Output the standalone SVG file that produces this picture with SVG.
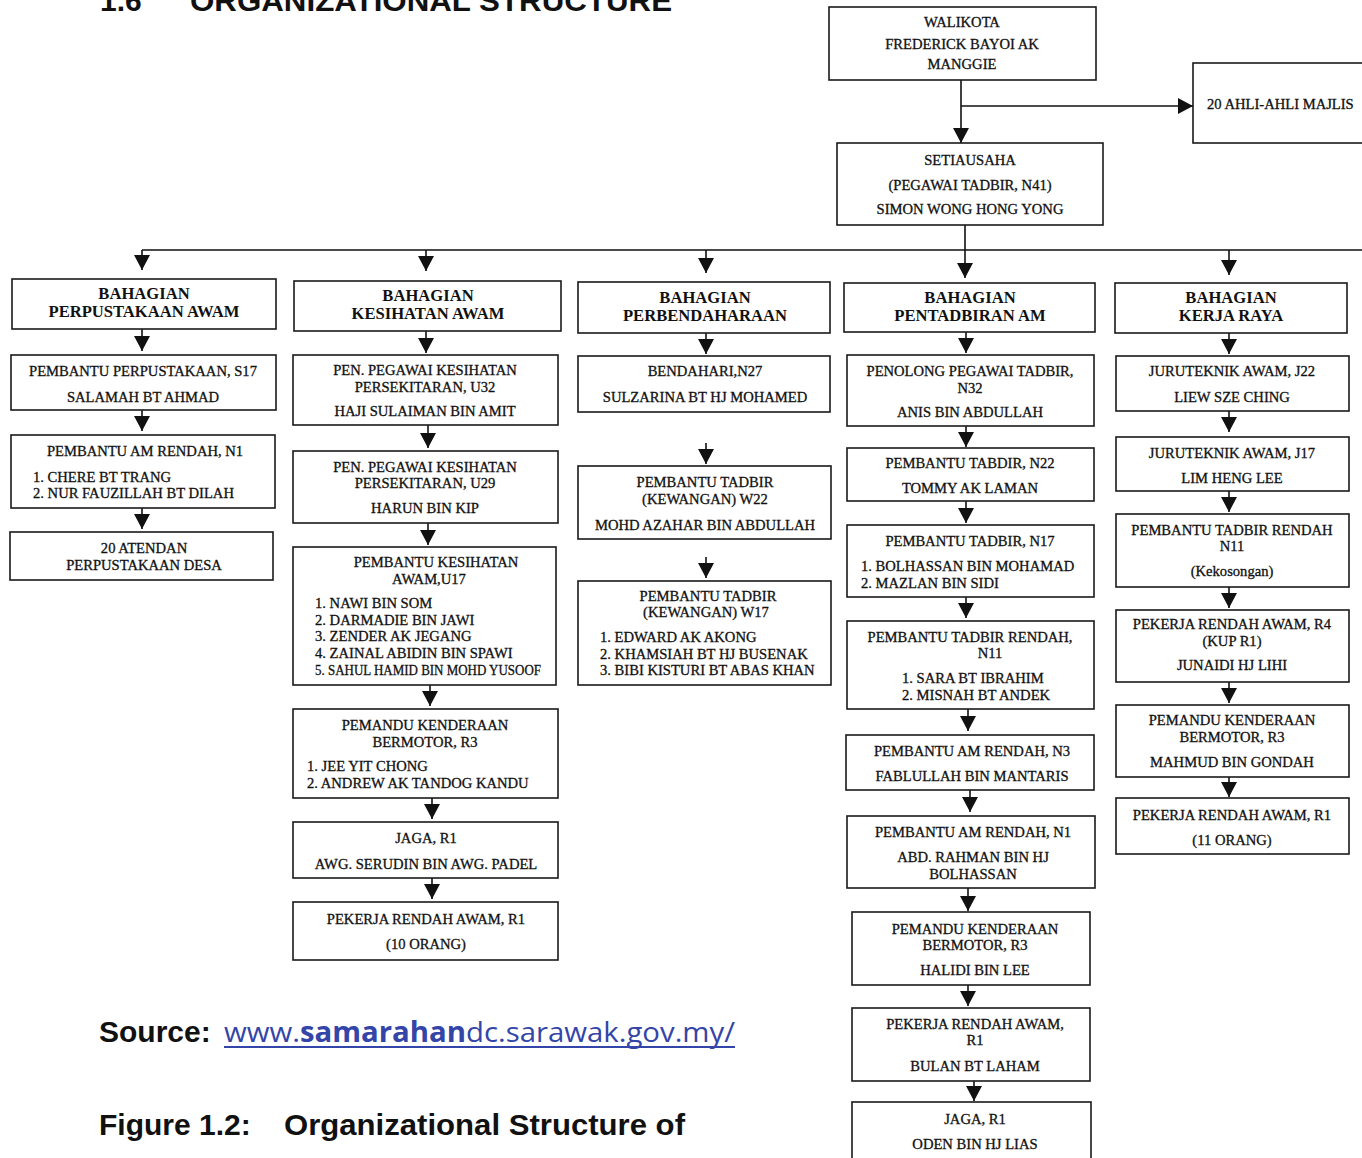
<svg xmlns="http://www.w3.org/2000/svg" width="1362" height="1158" viewBox="0 0 1362 1158">
<style>
.b{fill:#fff;stroke:#1a1a1a;stroke-width:1.6}
.t{font-family:"Liberation Serif",serif;font-size:14.6px;fill:#111;text-anchor:middle;stroke:#111;stroke-width:0.3}
.l{text-anchor:start}
.h{font-family:"Liberation Serif",serif;font-size:16.6px;font-weight:bold;fill:#111;text-anchor:middle}
.c{stroke:#111;stroke-width:1.6;fill:none}
.a{marker-end:url(#ar)}
.cap{font-family:"Liberation Sans",Arial,sans-serif;font-weight:bold;fill:#111}
</style>
<defs>
<marker id="ar" markerUnits="userSpaceOnUse" markerWidth="15" markerHeight="16" viewBox="0 0 15 16" refX="15" refY="8" orient="auto">
<path d="M0,0 L15,8 L0,16 z" fill="#111"/>
</marker>
</defs>
<rect width="1362" height="1158" fill="#fff"/>
<text class="cap" x="100" y="11" font-size="30">1.6</text>
<text class="cap" x="190" y="11" font-size="30" textLength="482" lengthAdjust="spacingAndGlyphs">ORGANIZATIONAL STRUCTURE</text>

<g id="connectors">
<path class="c a" d="M961,80 V143"/>
<path class="c a" d="M961,106 H1193"/>
<path class="c" d="M965,225 V250 M142,250 H1362"/>
<path class="c a" d="M142,250 V270"/>
<path class="c a" d="M426,250 V271"/>
<path class="c a" d="M706,250 V273"/>
<path class="c a" d="M965,250 V278"/>
<path class="c a" d="M1229,250 V275"/>
<path class="c a" d="M142,329 V351"/>
<path class="c a" d="M142,410 V431"/>
<path class="c a" d="M142,508 V529"/>
<path class="c a" d="M426,331 V353"/>
<path class="c a" d="M428,425 V448"/>
<path class="c a" d="M428,523 V545"/>
<path class="c a" d="M430,685 V706"/>
<path class="c a" d="M432,798 V819"/>
<path class="c a" d="M432,878 V899"/>
<path class="c a" d="M706,333 V354"/>
<path class="c a" d="M706,443 V464"/>
<path class="c a" d="M706,557 V578"/>
<path class="c a" d="M966,332 V353"/>
<path class="c a" d="M966,426 V447"/>
<path class="c a" d="M966,501 V523"/>
<path class="c a" d="M966,597 V618"/>
<path class="c a" d="M968,709 V731"/>
<path class="c a" d="M970,790 V812"/>
<path class="c a" d="M968,888 V911"/>
<path class="c a" d="M968,985 V1006"/>
<path class="c a" d="M974,1081 V1101"/>
<path class="c a" d="M1229,333 V354"/>
<path class="c a" d="M1229,411 V432"/>
<path class="c a" d="M1229,491 V512"/>
<path class="c a" d="M1229,587 V608"/>
<path class="c a" d="M1229,682 V703"/>
<path class="c a" d="M1229,777 V797"/>
</g>

<g id="walikota"><rect class="b" x="829" y="7" width="267" height="73"/>
<text class="t" x="962" y="27">WALIKOTA</text><text class="t" x="962" y="49">FREDERICK BAYOI AK</text><text class="t" x="962" y="69">MANGGIE</text></g>
<g id="ahli-majlis"><rect class="b" x="1193" y="63" width="185" height="80"/>
<text class="t l" x="1207" y="109">20 AHLI-AHLI MAJLIS</text></g>
<g id="setiausaha"><rect class="b" x="837" y="143" width="266" height="82"/>
<text class="t" x="970" y="165">SETIAUSAHA</text><text class="t" x="970" y="190">(PEGAWAI TADBIR, N41)</text><text class="t" x="970" y="214">SIMON WONG HONG YONG</text></g>

<g id="perpustakaan"><rect class="b" x="12" y="279" width="264" height="50"/>
<text class="h" x="144" y="299">BAHAGIAN</text><text class="h" x="144" y="317">PERPUSTAKAAN AWAM</text></g>
<g id="c1n1"><rect class="b" x="11" y="355" width="265" height="55"/>
<text class="t" x="143" y="376">PEMBANTU PERPUSTAKAAN, S17</text><text class="t" x="143" y="402">SALAMAH BT AHMAD</text></g>
<g id="c1n2"><rect class="b" x="11" y="435" width="264" height="73"/>
<text class="t" x="145" y="456">PEMBANTU AM RENDAH, N1</text>
<text class="t l" x="33" y="482">1. CHERE BT TRANG</text><text class="t l" x="33" y="498">2. NUR FAUZILLAH BT DILAH</text></g>
<g id="c1n3"><rect class="b" x="10" y="532" width="263" height="48"/>
<text class="t" x="144" y="553">20 ATENDAN</text><text class="t" x="144" y="570">PERPUSTAKAAN DESA</text></g>

<g id="kesihatan"><rect class="b" x="294" y="281" width="267" height="50"/>
<text class="h" x="428" y="301">BAHAGIAN</text><text class="h" x="428" y="319">KESIHATAN AWAM</text></g>
<g id="c2n1"><rect class="b" x="293" y="355" width="265" height="70"/>
<text class="t" x="425" y="375">PEN. PEGAWAI KESIHATAN</text><text class="t" x="425" y="392">PERSEKITARAN, U32</text><text class="t" x="425" y="416">HAJI SULAIMAN BIN AMIT</text></g>
<g id="c2n2"><rect class="b" x="293" y="451" width="265" height="72"/>
<text class="t" x="425" y="472">PEN. PEGAWAI KESIHATAN</text><text class="t" x="425" y="488">PERSEKITARAN, U29</text><text class="t" x="425" y="513">HARUN BIN KIP</text></g>
<g id="c2n3"><rect class="b" x="293" y="547" width="263" height="138"/>
<text class="t" x="436" y="567">PEMBANTU KESIHATAN</text><text class="t" x="429" y="584">AWAM,U17</text>
<text class="t l" x="315" y="608">1. NAWI BIN SOM</text><text class="t l" x="315" y="625">2. DARMADIE BIN JAWI</text><text class="t l" x="315" y="641">3. ZENDER AK JEGANG</text><text class="t l" x="315" y="658">4. ZAINAL ABIDIN BIN SPAWI</text><text class="t l" x="315" y="675" font-size="12" textLength="226" lengthAdjust="spacingAndGlyphs">5. SAHUL HAMID BIN MOHD YUSOOF</text></g>
<g id="c2n4"><rect class="b" x="293" y="709" width="265" height="89"/>
<text class="t" x="425" y="730">PEMANDU KENDERAAN</text><text class="t" x="425" y="747">BERMOTOR, R3</text>
<text class="t l" x="307" y="771">1. JEE YIT CHONG</text><text class="t l" x="307" y="788">2. ANDREW AK TANDOG KANDU</text></g>
<g id="c2n5"><rect class="b" x="293" y="822" width="265" height="56"/>
<text class="t" x="426" y="843">JAGA, R1</text><text class="t" x="426" y="869">AWG. SERUDIN BIN AWG. PADEL</text></g>
<g id="c2n6"><rect class="b" x="293" y="902" width="265" height="58"/>
<text class="t" x="426" y="924">PEKERJA RENDAH AWAM, R1</text><text class="t" x="426" y="949">(10 ORANG)</text></g>

<g id="perbendaharaan"><rect class="b" x="578" y="282" width="252" height="51"/>
<text class="h" x="705" y="303">BAHAGIAN</text><text class="h" x="705" y="321">PERBENDAHARAAN</text></g>
<g id="c3n1"><rect class="b" x="578" y="356" width="252" height="56"/>
<text class="t" x="705" y="376">BENDAHARI,N27</text><text class="t" x="705" y="402">SULZARINA BT HJ MOHAMED</text></g>
<g id="c3n2"><rect class="b" x="578" y="466" width="253" height="73"/>
<text class="t" x="705" y="487">PEMBANTU TADBIR</text><text class="t" x="705" y="504">(KEWANGAN) W22</text><text class="t" x="705" y="530">MOHD AZAHAR BIN ABDULLAH</text></g>
<g id="c3n3"><rect class="b" x="578" y="581" width="253" height="104"/>
<text class="t" x="708" y="601">PEMBANTU TADBIR</text><text class="t" x="706" y="617">(KEWANGAN) W17</text>
<text class="t l" x="600" y="642">1. EDWARD AK AKONG</text><text class="t l" x="600" y="659">2. KHAMSIAH BT HJ BUSENAK</text><text class="t l" x="600" y="675">3. BIBI KISTURI BT ABAS KHAN</text></g>

<g id="pentadbiran"><rect class="b" x="844" y="283" width="251" height="49"/>
<text class="h" x="970" y="303">BAHAGIAN</text><text class="h" x="970" y="321">PENTADBIRAN AM</text></g>
<g id="c4n1"><rect class="b" x="847" y="355" width="247" height="71"/>
<text class="t" x="970" y="376">PENOLONG PEGAWAI TADBIR,</text><text class="t" x="970" y="393">N32</text><text class="t" x="970" y="417">ANIS BIN ABDULLAH</text></g>
<g id="c4n2"><rect class="b" x="847" y="448" width="247" height="53"/>
<text class="t" x="970" y="468">PEMBANTU TABDIR, N22</text><text class="t" x="970" y="493">TOMMY AK LAMAN</text></g>
<g id="c4n3"><rect class="b" x="847" y="525" width="247" height="72"/>
<text class="t" x="970" y="546">PEMBANTU TADBIR, N17</text>
<text class="t l" x="861" y="571">1. BOLHASSAN BIN MOHAMAD</text><text class="t l" x="861" y="588">2. MAZLAN BIN SIDI</text></g>
<g id="c4n4"><rect class="b" x="847" y="621" width="247" height="88"/>
<text class="t" x="970" y="642">PEMBANTU TADBIR RENDAH,</text><text class="t" x="990" y="658">N11</text>
<text class="t l" x="902" y="683">1. SARA BT IBRAHIM</text><text class="t l" x="902" y="700">2. MISNAH BT ANDEK</text></g>
<g id="c4n5"><rect class="b" x="846" y="735" width="248" height="55"/>
<text class="t" x="972" y="756">PEMBANTU AM RENDAH, N3</text><text class="t" x="972" y="781">FABLULLAH BIN MANTARIS</text></g>
<g id="c4n6"><rect class="b" x="847" y="816" width="248" height="72"/>
<text class="t" x="973" y="837">PEMBANTU AM RENDAH, N1</text><text class="t" x="973" y="862">ABD. RAHMAN BIN HJ</text><text class="t" x="973" y="879">BOLHASSAN</text></g>
<g id="c4n7"><rect class="b" x="852" y="912" width="238" height="73"/>
<text class="t" x="975" y="934">PEMANDU KENDERAAN</text><text class="t" x="975" y="950">BERMOTOR, R3</text><text class="t" x="975" y="975">HALIDI BIN LEE</text></g>
<g id="c4n8"><rect class="b" x="852" y="1008" width="238" height="73"/>
<text class="t" x="975" y="1029">PEKERJA RENDAH AWAM,</text><text class="t" x="975" y="1045">R1</text><text class="t" x="975" y="1071">BULAN BT LAHAM</text></g>
<g id="c4n9"><rect class="b" x="852" y="1102" width="239" height="70"/>
<text class="t" x="975" y="1124">JAGA, R1</text><text class="t" x="975" y="1149">ODEN BIN HJ LIAS</text></g>

<g id="kerjaraya"><rect class="b" x="1115" y="283" width="232" height="50"/>
<text class="h" x="1231" y="303">BAHAGIAN</text><text class="h" x="1231" y="321">KERJA RAYA</text></g>
<g id="c5n1"><rect class="b" x="1116" y="356" width="233" height="55"/>
<text class="t" x="1232" y="376">JURUTEKNIK AWAM, J22</text><text class="t" x="1232" y="402">LIEW SZE CHING</text></g>
<g id="c5n2"><rect class="b" x="1116" y="437" width="233" height="54"/>
<text class="t" x="1232" y="458">JURUTEKNIK AWAM, J17</text><text class="t" x="1232" y="483">LIM HENG LEE</text></g>
<g id="c5n3"><rect class="b" x="1116" y="514" width="233" height="73"/>
<text class="t" x="1232" y="535">PEMBANTU TADBIR RENDAH</text><text class="t" x="1232" y="551">N11</text><text class="t" x="1232" y="576" font-size="13">(Kekosongan)</text></g>
<g id="c5n4"><rect class="b" x="1116" y="610" width="233" height="72"/>
<text class="t" x="1232" y="629">PEKERJA RENDAH AWAM, R4</text><text class="t" x="1232" y="646">(KUP R1)</text><text class="t" x="1232" y="670">JUNAIDI HJ LIHI</text></g>
<g id="c5n5"><rect class="b" x="1116" y="705" width="233" height="72"/>
<text class="t" x="1232" y="725">PEMANDU KENDERAAN</text><text class="t" x="1232" y="742">BERMOTOR, R3</text><text class="t" x="1232" y="767">MAHMUD BIN GONDAH</text></g>
<g id="c5n6"><rect class="b" x="1116" y="798" width="233" height="56"/>
<text class="t" x="1232" y="820">PEKERJA RENDAH AWAM, R1</text><text class="t" x="1232" y="845">(11 ORANG)</text></g>

<text class="cap" x="99" y="1042" font-size="30">Source:</text>
<text x="224" y="1042" font-family="'Open Sans','Liberation Sans',sans-serif" font-size="28" fill="#3345a8" textLength="511" lengthAdjust="spacingAndGlyphs">www.<tspan font-weight="bold">samarahan</tspan>dc.sarawak.gov.my/</text>
<line x1="224" y1="1047" x2="735" y2="1047" stroke="#3345a8" stroke-width="2"/>
<text class="cap" x="99" y="1135" font-size="30">Figure 1.2:</text>
<text class="cap" x="284" y="1135" font-size="30" textLength="401" lengthAdjust="spacingAndGlyphs">Organizational Structure of</text>
</svg>
